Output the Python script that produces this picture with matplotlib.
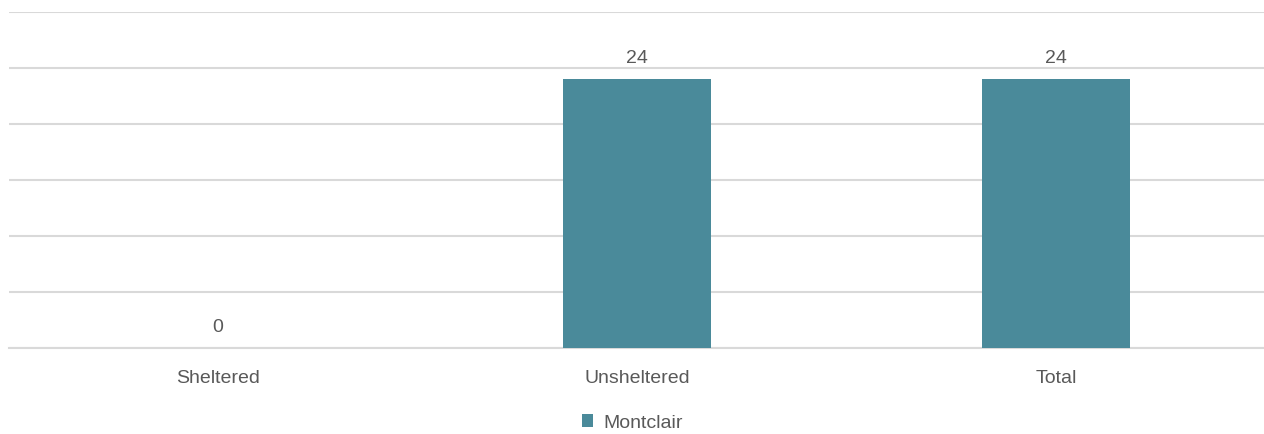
import matplotlib.pyplot as plt

plt.rcParams['font.family'] = ['Liberation Sans', 'DejaVu Sans']

categories = ['Sheltered', 'Unsheltered', 'Total']
values = [0, 24, 24]
series_name = 'Montclair'

bar_color = '#4A8A9A'
text_color = '#595959'
grid_color = '#D9D9D9'
fs = 14

fig = plt.figure(figsize=(12.64, 4.34), dpi=100)
ax = fig.add_axes([8.5 / 1264, 86 / 434, 1257 / 1264, 336 / 434])

x = range(len(categories))
bars = ax.bar(x, values, width=0.353, color=bar_color, label=series_name, zorder=3)

ax.set_xlim(-0.5, 2.5)
ax.set_ylim(0, 30)
ax.set_yticks([0, 5, 10, 15, 20, 25, 30])
ax.yaxis.grid(True, color=grid_color, linewidth=1.5, zorder=0)
ax.tick_params(axis='y', left=False, labelleft=False)
ax.tick_params(axis='x', bottom=False, labelsize=fs, labelcolor=text_color, pad=12)
ax.set_xticks(list(x))
ax.set_xticklabels(categories)
for s in ['top', 'right', 'left']:
    ax.spines[s].set_visible(False)
ax.spines['bottom'].set_color(grid_color)
ax.spines['bottom'].set_linewidth(1.5)

for rect, v in zip(bars, values):
    ax.annotate(str(v), (rect.get_x() + rect.get_width() / 2, v),
                xytext=(0, 9), textcoords='offset points', ha='center', va='bottom',
                fontsize=fs, color=text_color)

fig.legend(handles=[bars], labels=[series_name], loc='center', bbox_to_anchor=(0.5, 1 - 423 / 434),
           frameon=False, fontsize=fs, labelcolor=text_color, handlelength=0.6, handleheight=0.6,
           handletextpad=0.5)

fig.savefig('out.png', dpi=100)
